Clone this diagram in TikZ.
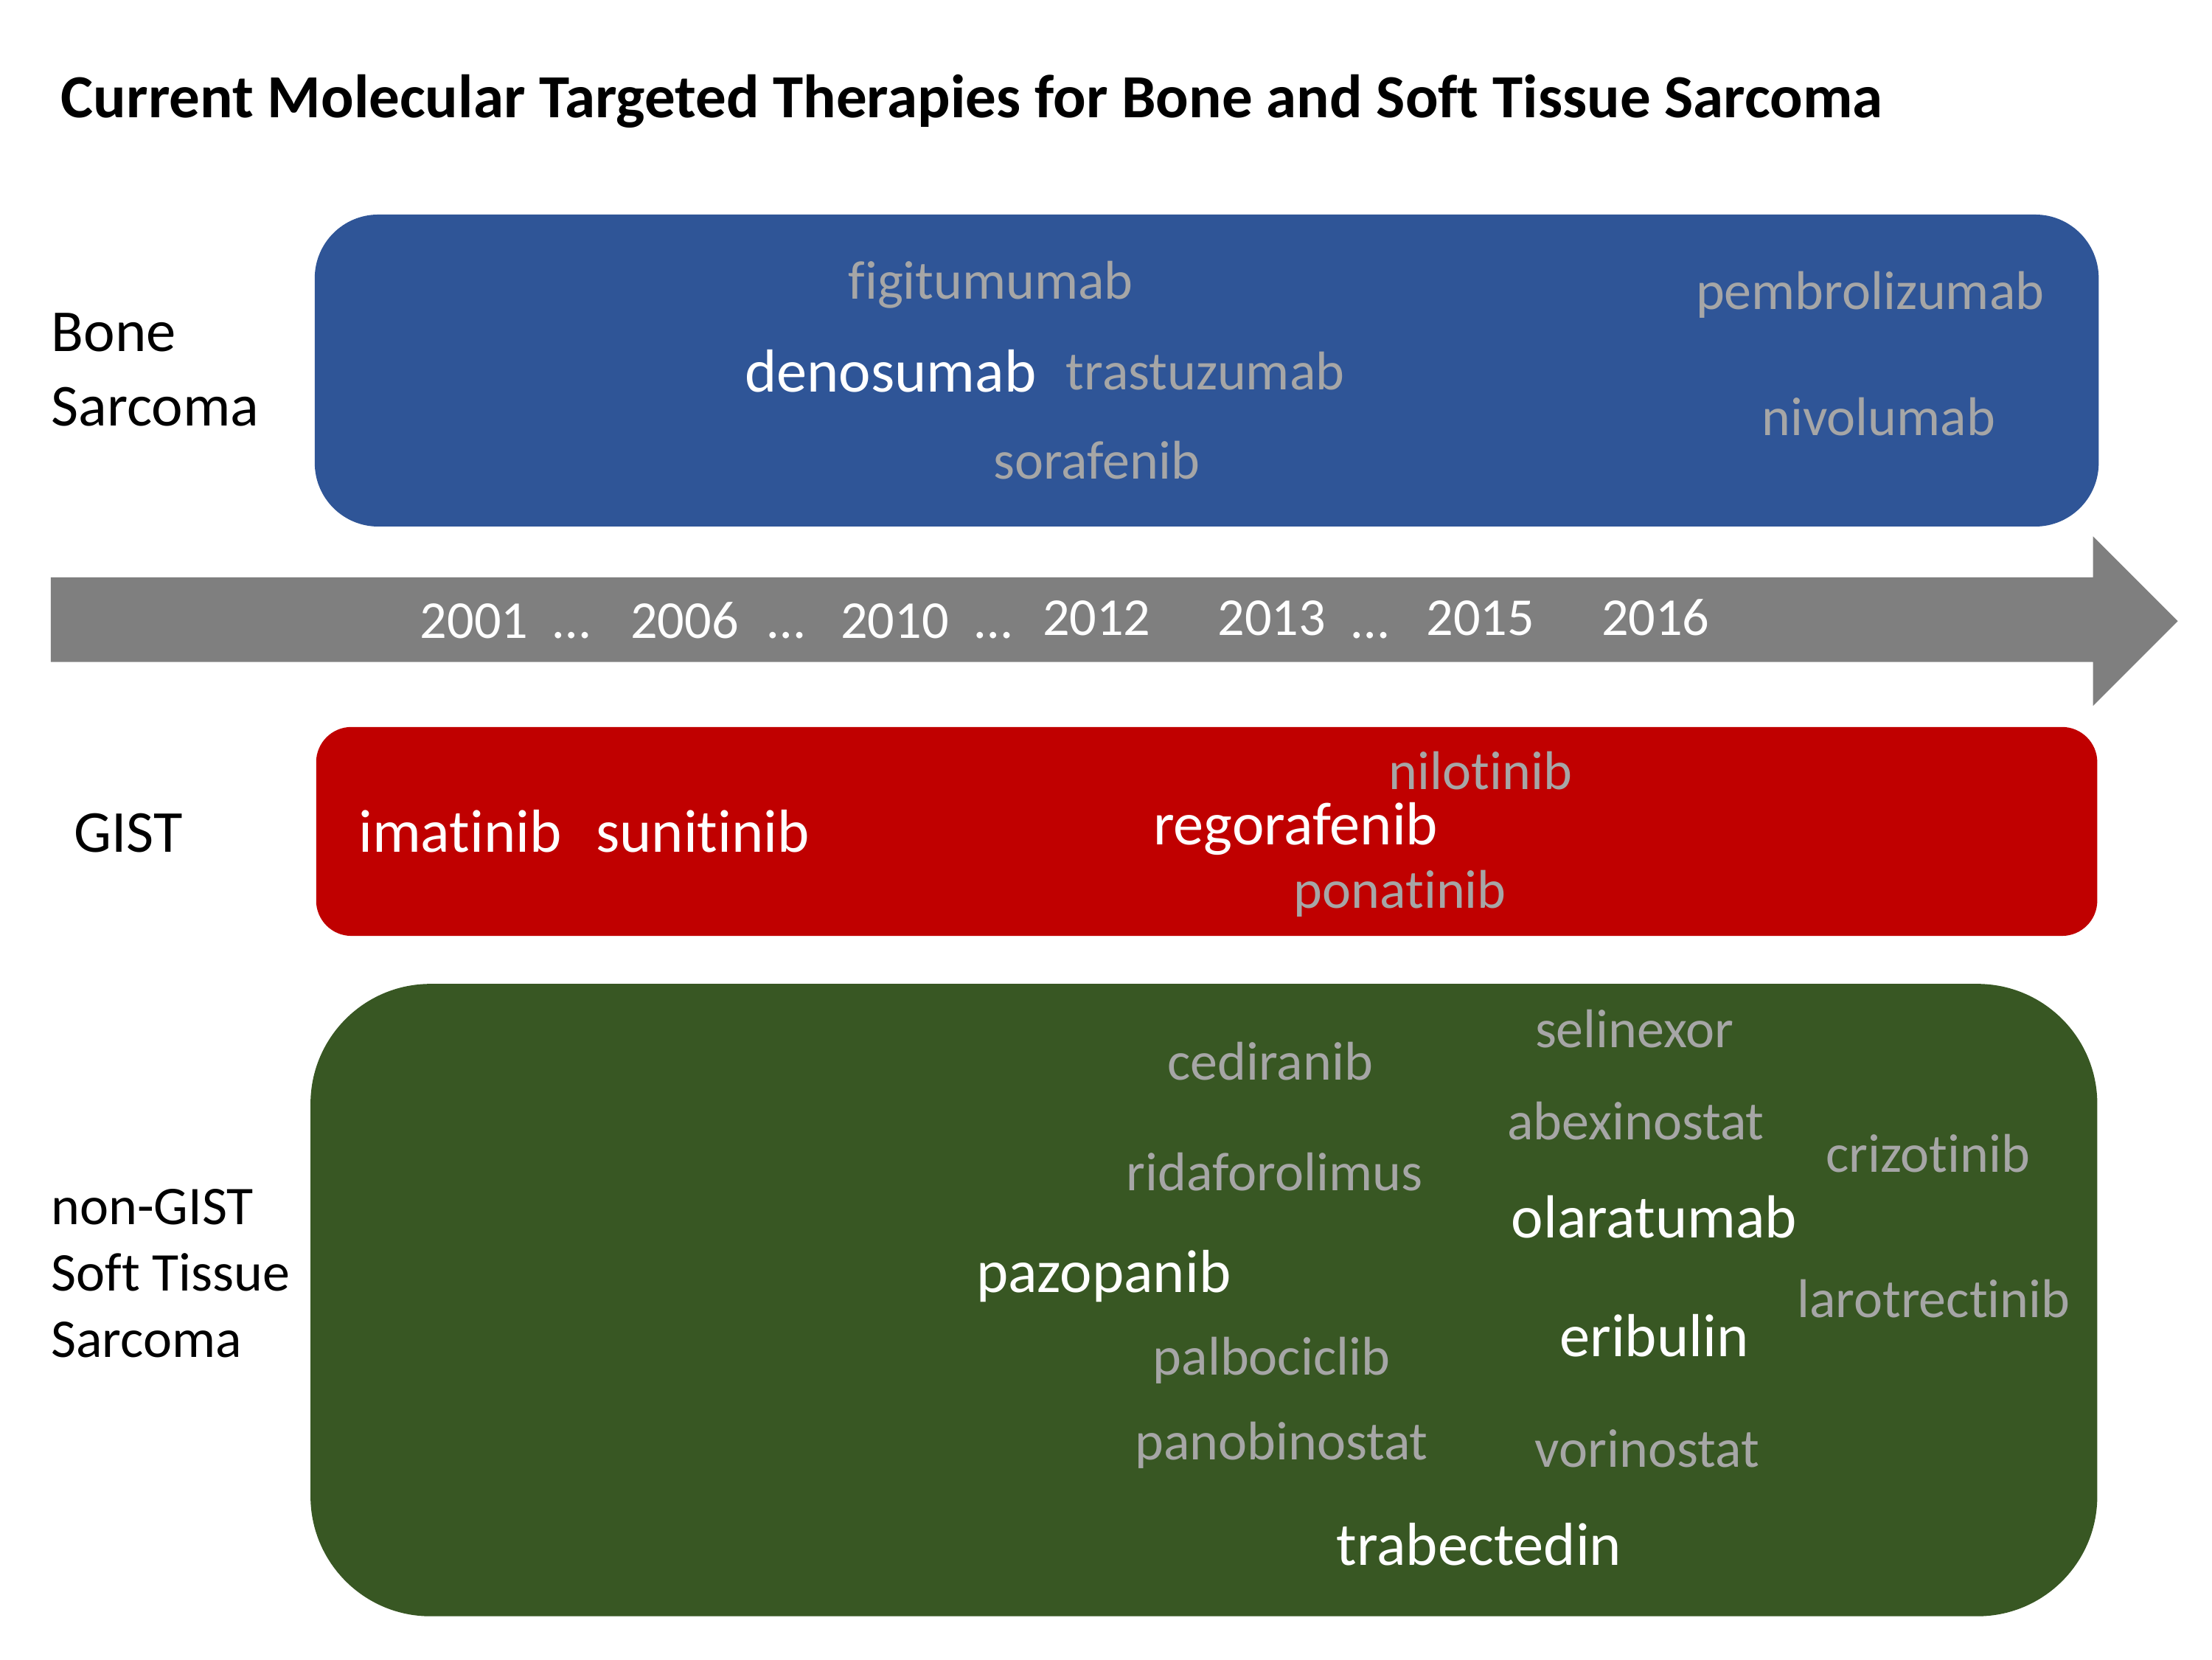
\documentclass[tikz,border=0pt]{standalone}
\usepackage{fontspec}
\setmainfont{Carlito}[Ligatures=CommonOff]
\usepackage{tikz}
\definecolor{bonebl}{HTML}{2F5597}
\definecolor{gistred}{HTML}{C00000}
\definecolor{stsgreen}{HTML}{385723}
\definecolor{timegray}{HTML}{7F7F7F}
\definecolor{druggray}{HTML}{A6A6A6}
\begin{document}
\begin{tikzpicture}[x=0.02cm,y=-0.02cm,
  approved/.style={text=white,inner sep=0,font=\fontsize{24.5}{28}\selectfont},
  trial/.style={text=druggray,inner sep=0,font=\fontsize{22}{26}\selectfont},
  year/.style={text=white,inner sep=0,anchor=base,font=\fontsize{21.5}{24}\selectfont},
  group/.style={anchor=west,align=left,inner sep=0}]
\useasboundingbox (0,0) rectangle (1567.3,1175.5);
\node[anchor=west,inner sep=0,font=\fontsize{24.7}{28}\selectfont\bfseries] (title) at (43,72) {Current Molecular Targeted Therapies for Bone and Soft Tissue Sarcoma};
% boxes
\fill [bonebl, rounded corners=0.9cm] (223,152) rectangle (1487,373);
\fill [gistred, rounded corners=0.5cm] (224,515) rectangle (1486,663);
\fill [stsgreen, rounded corners=1.7cm] (220,697) rectangle (1486,1145);
% time arrow
\fill [timegray] (36,409) -- (1483,409) -- (1483,380) -- (1543,440) -- (1483,500) -- (1483,469) -- (36,469) -- cycle;
% groups
\node[group,font=\fontsize{24}{30}\selectfont] (bone) at (36,262) {Bone\\Sarcoma};
\node[group,font=\fontsize{24}{27}\selectfont] (gist) at (52,590) {GIST};
\node[group,font=\fontsize{22}{26.7}\selectfont] (sts) at (36,902) {non-GIST\\Soft Tissue\\Sarcoma};
% years
\node[year] (y2001) at (336,452) {2001};
\node[year] (d1) at (405,452) {…};
\node[year] (y2006) at (485,452) {2006};
\node[year] (d2) at (557,452) {…};
\node[year] (y2010) at (634,452) {2010};
\node[year] (d3) at (704,452) {…};
\node[year] (y2012) at (777,450) {2012};
\node[year] (y2013) at (901,450) {2013};
\node[year] (d4) at (971,452) {…};
\node[year] (y2015) at (1049,450) {2015};
\node[year] (y2016) at (1173,450) {2016};
% bone sarcoma
\node[trial] (figi) at (702,202) {figitumumab};
\node[approved] (deno) at (631,263) {denosumab};
\node[trial] (tras) at (854,263) {trastuzumab};
\node[trial] (sora) at (777,326) {sorafenib};
\node[trial] (pemb) at (1325,209) {pembrolizumab};
\node[trial] (nivo) at (1331,295) {nivolumab};
% gist
\node[approved] (imat) at (326,589) {imatinib};
\node[approved] (suni) at (498,589) {sunitinib};
\node[approved] (rego) at (918,587) {regorafenib};
\node[trial] (nilo) at (1049,546) {nilotinib};
\node[trial] (pona) at (992,633) {ponatinib};
% non-gist sts
\node[trial] (seli) at (1158,729) {selinexor};
\node[trial] (cedi) at (900,752) {cediranib};
\node[trial] (abex) at (1159,794) {abexinostat};
\node[trial] (crizo) at (1366,817) {crizotinib};
\node[trial] (rida) at (903,830) {ridaforolimus};
\node[approved] (olar) at (1172,862) {olaratumab};
\node[approved] (pazo) at (782,904) {pazopanib};
\node[trial] (laro) at (1370,920) {larotrectinib};
\node[approved] (erib) at (1172,946) {eribulin};
\node[trial] (palb) at (901,964) {palbociclib};
\node[trial] (pano) at (908,1024) {panobinostat};
\node[trial] (vori) at (1167,1026) {vorinostat};
\node[approved] (trab) at (1048,1094) {trabectedin};
\end{tikzpicture}
\end{document}
